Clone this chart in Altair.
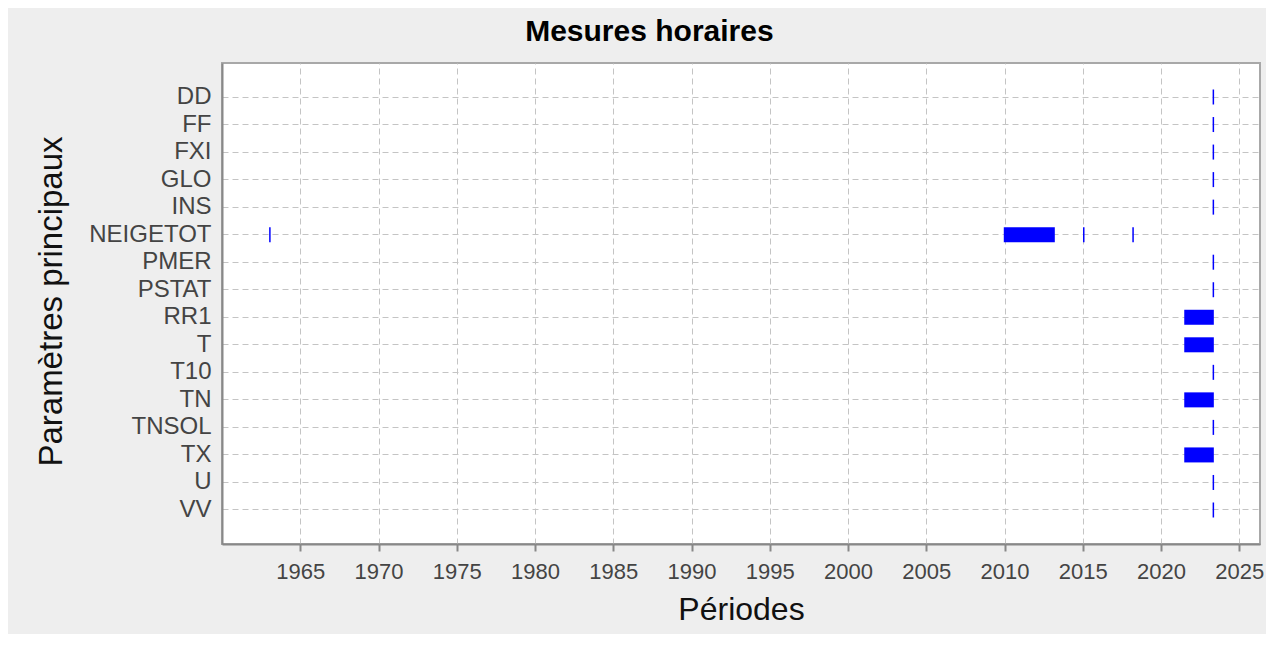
import altair as alt
import pandas as pd

params = ["DD", "FF", "FXI", "GLO", "INS", "NEIGETOT", "PMER", "PSTAT",
          "RR1", "T", "T10", "TN", "TNSOL", "TX", "U", "VV"]

# continuous periods (bars)
bar_param = ["NEIGETOT", "RR1", "T", "TN", "TX"]
bar_start = [2009.95, 2021.48, 2021.48, 2021.48, 2021.48]
bar_end = [2013.21, 2023.37, 2023.37, 2023.37, 2023.37]

# isolated measures (ticks)
tick_param = ["DD", "FF", "FXI", "GLO", "INS", "NEIGETOT", "NEIGETOT", "NEIGETOT",
              "PMER", "PSTAT", "T10", "TNSOL", "U", "VV"]
tick_year = [2023.34, 2023.34, 2023.34, 2023.34, 2023.34, 1963.06, 2015.06, 2018.21,
             2023.34, 2023.34, 2023.34, 2023.34, 2023.34, 2023.34]

year_ticks = [1965, 1970, 1975, 1980, 1985, 1990, 1995, 2000, 2005, 2010,
              2015, 2020, 2025]

bars = pd.DataFrame({"param": bar_param, "start": bar_start, "end": bar_end})
ticks = pd.DataFrame({"param": tick_param, "year": tick_year})

FONT = "Liberation Sans"

xscale = alt.Scale(domain=[1960.0, 2026.32], nice=False, zero=False)
yscale = alt.Scale(domain=params, paddingInner=0, paddingOuter=0.735)

xaxis = alt.Axis(values=year_ticks, format="d", title="Périodes",
                 titleFontSize=32, titleFont=FONT, titleFontWeight="normal",
                 titleColor="#111", titleY=65, titleBaseline="middle",
                 labelFontSize=22, labelFont=FONT, labelColor="#444",
                 labelPadding=10, tickSize=7, tickColor="#888", tickWidth=2,
                 domainColor="#888", domainWidth=2,
                 grid=True, gridColor="#c4c4c4", gridDash=[6, 4], gridWidth=1)

yaxis = alt.Axis(title="Paramètres principaux", titleFontSize=33, titleFont=FONT,
                 titleFontWeight="normal", titleColor="#111", titleAngle=-90,
                 titleX=-171, titleY=238, titleBaseline="middle", titleAlign="center",
                 labelFontSize=24, labelFont=FONT, labelColor="#444",
                 labelPadding=11, ticks=False, domainColor="#888", domainWidth=2,
                 grid=True, gridColor="#c4c4c4", gridDash=[6, 4], gridWidth=1)

bar_layer = alt.Chart(bars).mark_bar(color="#0000ff", size=15, opacity=1).encode(
    x=alt.X("start:Q", scale=xscale, axis=xaxis),
    x2="end:Q",
    y=alt.Y("param:N", scale=yscale, axis=yaxis, sort=params),
)

tick_layer = alt.Chart(ticks).mark_tick(color="#0000ff", thickness=1.5, size=15,
                                        opacity=1, orient="vertical").encode(
    x=alt.X("year:Q", scale=xscale, axis=xaxis),
    y=alt.Y("param:N", scale=yscale, axis=yaxis, sort=params),
)

chart = alt.layer(bar_layer, tick_layer).properties(
    width=1038,
    height=481,
    title=alt.TitleParams("Mesures horaires", fontSize=30, font=FONT,
                          fontWeight="bold", color="#000", offset=16,
                          anchor="middle", frame="bounds"),
    background="#eeeeee",
    padding={"left": 214, "top": 55, "right": 6, "bottom": 90},
    autosize=alt.AutoSizeParams(type="none"),
).configure_view(stroke="#a8a8a8", strokeWidth=2, fill="white")

chart.save("out.html", embed_options={"renderer": "svg", "actions": False})
